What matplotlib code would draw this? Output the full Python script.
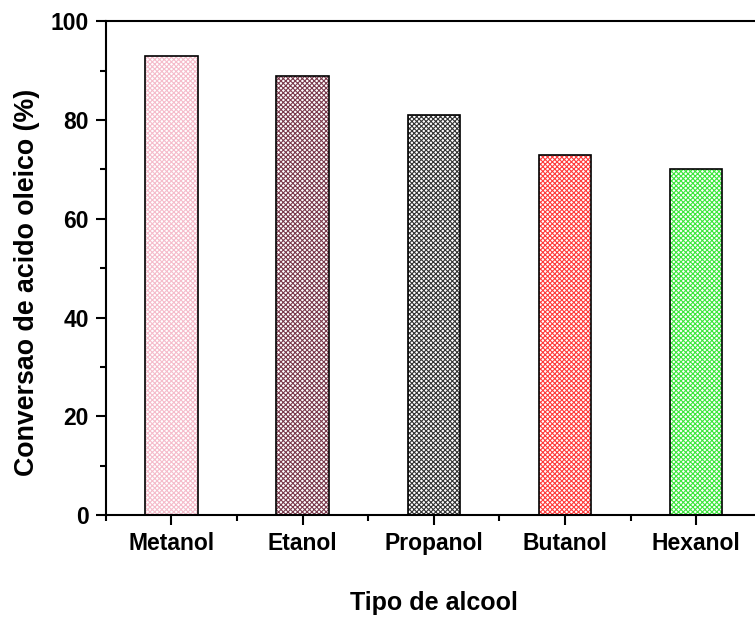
import numpy as np
import matplotlib.pyplot as plt
from matplotlib.ticker import MultipleLocator, FixedLocator

alcools = ["Metanol", "Etanol", "Propanol", "Butanol", "Hexanol"]
conversao = [93, 89, 81, 73, 70]
cores = ["#f5bccb", "#7a3a4c", "#333333", "#ff3c3c", "#3ce63c"]

plt.rcParams['font.family'] = ['Liberation Sans', 'DejaVu Sans']
plt.rcParams['font.weight'] = 'bold'
plt.rcParams['hatch.linewidth'] = 0.8

fig = plt.figure(figsize=(7.55, 6.17), dpi=100)
ax = fig.add_axes([0.140, 0.165, 0.869, 0.8006])

x = np.arange(1, len(alcools) + 1)
for xi, v, c in zip(x, conversao, cores):
    ax.bar(xi, v, width=0.4, color='white', edgecolor=c, hatch='xxxxxxx', linewidth=0)
    ax.bar(xi, v, width=0.4, fill=False, edgecolor='black', linewidth=1.2)

ax.set_xlim(0.5, 5.5)
ax.set_ylim(0, 100)
ax.set_xticks(x)
ax.set_xticklabels(alcools)
ax.xaxis.set_minor_locator(FixedLocator(np.arange(0.5, 6, 1)))
ax.yaxis.set_major_locator(MultipleLocator(20))
ax.yaxis.set_minor_locator(MultipleLocator(10))

ax.tick_params(which='major', direction='out', length=7, width=1.5, labelsize=16.5, pad=5)
ax.tick_params(which='minor', direction='out', length=4, width=1.5)
for s in ax.spines.values():
    s.set_linewidth(1.5)

ax.set_xlabel("Tipo de alcool", fontsize=18, fontweight='bold')
ax.set_ylabel("Conversao de acido oleico (%)", fontsize=19.3, fontweight='bold')
ax.xaxis.set_label_coords(0.5, -88 / 494, transform=ax.transAxes)
ax.yaxis.set_label_coords(27 / 755, 335 / 617, transform=fig.transFigure)
ax.yaxis.label.set_verticalalignment('center')
ax.xaxis.label.set_verticalalignment('center')

fig.savefig("out.png", dpi=100)
